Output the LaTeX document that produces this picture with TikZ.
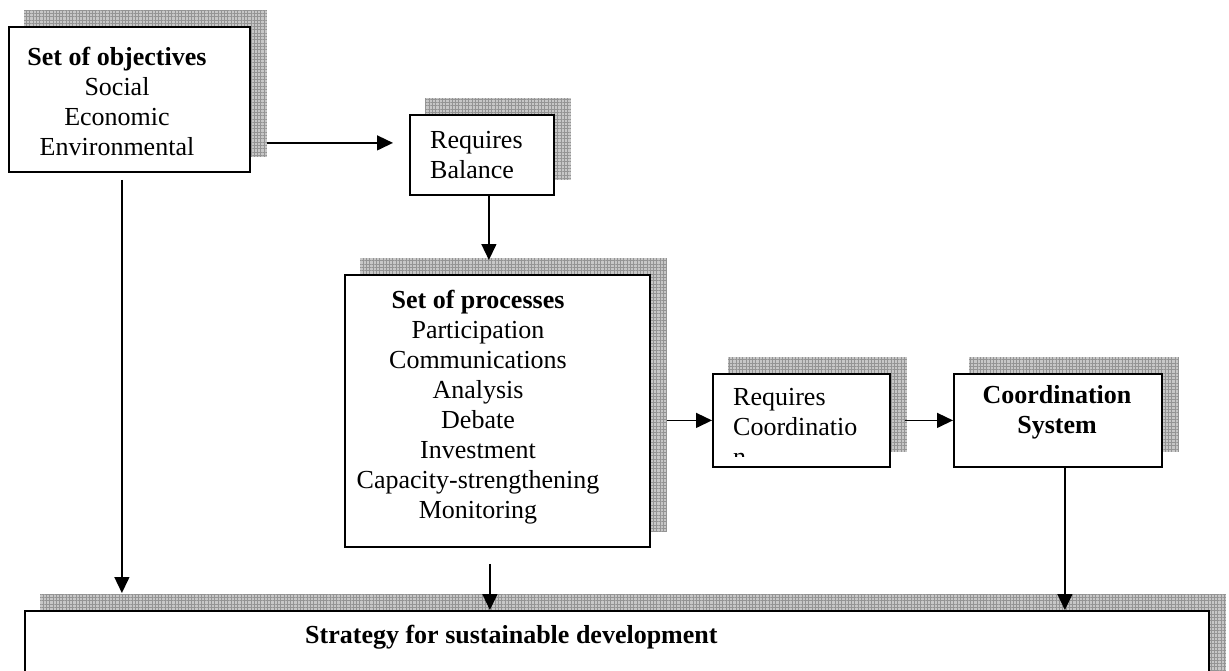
\documentclass[tikz,border=0pt]{standalone}
\usepackage{fontspec}
\setmainfont{Liberation Serif}
\usepackage{tikz}
\usetikzlibrary{arrows.meta,patterns.meta,backgrounds}

\begin{document}
\begin{tikzpicture}[x=1pt,y=-1pt,
    box/.style={draw,line width=1.8pt,fill=white,anchor=north west,inner sep=0pt},
    txt/.style={font=\fontsize{26}{30}\selectfont,inner sep=0pt,align=center},
    gridshade/.style={preaction={fill=black!22},
      pattern={Hatch[angle=0,distance=3.3pt,line width=0.6pt]},pattern color=black!42},
    arr/.style={line width=1.4pt,-{Triangle[length=16pt,width=15pt]}}]

  \useasboundingbox (0,0) rectangle (1229,670);
  \clip (0,0) rectangle (1229,670);

  \node[box,minimum width=241,minimum height=145]  (obj)   at (8,26)    {};
  \node[box,minimum width=144,minimum height=80]   (bal)   at (409,114) {};
  \node[box,minimum width=305,minimum height=272]  (procs) at (344,274) {};
  \node[box,minimum width=177,minimum height=93]   (coord) at (712,373) {};
  \node[box,minimum width=208,minimum height=93]   (csys)  at (953,373) {};
  \node[box,minimum width=1184,minimum height=120] (strat) at (24,610)  {};

  % grid shadows behind every box
  \begin{pgfonlayer}{background}
    \foreach \b in {obj,bal,procs,coord,csys,strat}
      \path[gridshade] ([shift={(16,-16)}]\b.south west) rectangle ([shift={(16,-16)}]\b.north east);
  \end{pgfonlayer}

  \node[txt] (objtext) at (117,101)
    {\textbf{Set of objectives}\\Social\\Economic\\Environmental};
  \node[txt,align=left,anchor=west] (baltext) at (430,155) {Requires\\Balance};
  \node[txt] (procstext) at (478,407)
    {\textbf{Set of processes}\\Participation\\Communications\\Analysis\\Debate\\Investment\\Capacity-strengthening\\Monitoring};
  \begin{scope}
    \clip (700,360) rectangle (900,456);
    \node[txt,align=left,anchor=west] (coordtext) at (733,427) {Requires\\Coordinatio\\n};
  \end{scope}
  \node[txt] (csystext) at (1057,412) {\textbf{Coordination}\\\textbf{System}};
  \node[txt,anchor=west] (strattext) at (305,637) {\textbf{Strategy for sustainable development}};

  \draw[arr] ([shift={(16,43.5)}]obj.east) -- ([shift={(-16,-12)}]bal.west);
  \draw[arr] ([xshift=7]bal.south) -- ([shift={(7,-14)}]bal.south |- procs.north);
  \draw[arr] ([xshift=16]procs.east |- coord.west) -- (coord.west);
  \draw[arr] ([xshift=14]coord.east) -- (csys.west);

  \draw[arr] ([shift={(-7.5,7)}]obj.south) -- ([shift={(-7.5,-17)}]obj.south |- strat.north);
  \draw[arr] ([shift={(-7.5,16)}]procs.south) -- ([xshift=-7.5]procs.south |- strat.north);
  \draw[arr] ([xshift=7]csys.south) -- ([xshift=7]csys.south |- strat.north);
\end{tikzpicture}
\end{document}
